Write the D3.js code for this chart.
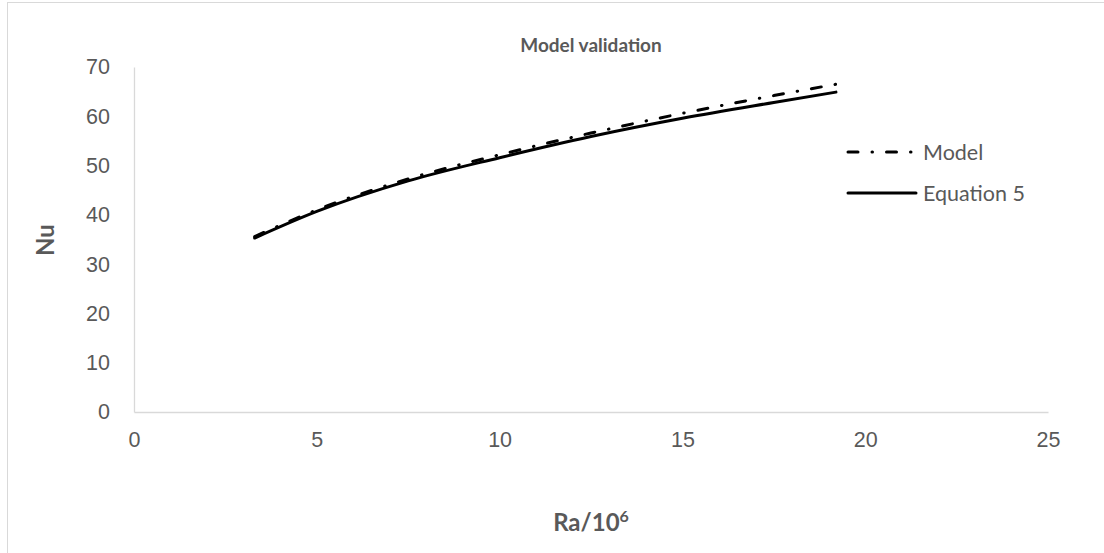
<!DOCTYPE html>
<html>
<head>
<meta charset="utf-8">
<script src="https://cdn.jsdelivr.net/npm/d3@7"></script>
<style>
  html, body { margin: 0; padding: 0; background: #fff; }
  svg { display: block; font-family: Lato, "Open Sans", sans-serif; }
</style>
</head>
<body>
<svg id="chart" width="1104" height="553"></svg>
<script>
// Rayleigh number (÷10^6) and Nusselt number for both curves
const raValues = [3.3, 5, 7.5, 10, 12.5, 15, 17.5, 19.2];
const modelNu = [35.6, 41.0, 47.3, 52.2, 56.6, 60.6, 64.2, 66.5];
const equationNu = [35.3, 40.7, 46.9, 51.6, 55.9, 59.6, 62.8, 64.9];
const xTicks = [0, 5, 10, 15, 20, 25];
const yTicks = [0, 10, 20, 30, 40, 50, 60, 70];
const seriesNames = ["Model", "Equation 5"];

const svg = d3.select("#chart");
const textColor = "#595959";
const axisColor = "#d9d9d9";
const tickFont = 21.5;

// outer chart frame
svg.append("rect")
  .attr("x", 7.5).attr("y", 2.5)
  .attr("width", 1110).attr("height", 560)
  .attr("fill", "none").attr("stroke", "#d9d9d9").attr("stroke-width", 1);

const x = d3.scaleLinear().domain([0, 25]).range([134, 1048]);
const y = d3.scaleLinear().domain([0, 70]).range([412, 67]);

// x axis
const xAxis = svg.append("g")
  .attr("transform", `translate(0,${y(0)})`)
  .call(d3.axisBottom(x).tickValues(xTicks).tickSize(0).tickPadding(20));
xAxis.select(".domain").attr("stroke", axisColor).attr("stroke-width", 1.3);
xAxis.selectAll("text").attr("fill", textColor).attr("font-size", tickFont);

// y axis
const yAxis = svg.append("g")
  .attr("transform", `translate(${x(0)},0)`)
  .call(d3.axisLeft(y).tickValues(yTicks).tickSize(0).tickPadding(24));
yAxis.select(".domain").attr("stroke", axisColor).attr("stroke-width", 1.3);
yAxis.selectAll("text").attr("fill", textColor).attr("font-size", tickFont);

// title and axis titles
svg.append("text")
  .attr("x", 591).attr("y", 52)
  .attr("text-anchor", "middle")
  .attr("fill", textColor).attr("font-size", 19).attr("font-weight", "bold")
  .text("Model validation");

svg.append("text")
  .attr("transform", "translate(54,240) rotate(-90)")
  .attr("text-anchor", "middle")
  .attr("fill", textColor).attr("font-size", 24).attr("font-weight", "bold")
  .text("Nu");

const xt = svg.append("text")
  .attr("x", 591).attr("y", 531)
  .attr("text-anchor", "middle")
  .attr("fill", textColor).attr("font-size", 24).attr("font-weight", "bold");
xt.append("tspan").text("Ra/10");
xt.append("tspan").attr("dy", -9).attr("font-size", 16).text("6");

// curves
const line = d3.line()
  .x(d => x(d[0]))
  .y(d => y(d[1]))
  .curve(d3.curveMonotoneX);

const dashPattern = "10 14 0.5 14";

svg.append("path")
  .datum(raValues.map((r, i) => [r, equationNu[i]]))
  .attr("d", line)
  .attr("fill", "none").attr("stroke", "#000").attr("stroke-width", 3)
  .attr("stroke-linecap", "round");

svg.append("path")
  .datum(raValues.map((r, i) => [r, modelNu[i]]))
  .attr("d", line)
  .attr("fill", "none").attr("stroke", "#000").attr("stroke-width", 3)
  .attr("stroke-linecap", "round")
  .attr("stroke-dasharray", dashPattern);

// legend
const legend = svg.append("g");
const legendRows = [
  { name: seriesNames[0], y: 152, dash: dashPattern },
  { name: seriesNames[1], y: 193, dash: null }
];
legendRows.forEach(row => {
  legend.append("line")
    .attr("x1", 848).attr("x2", 916)
    .attr("y1", row.y).attr("y2", row.y)
    .attr("stroke", "#000").attr("stroke-width", 3)
    .attr("stroke-linecap", "round")
    .attr("stroke-dasharray", row.dash);
  legend.append("text")
    .attr("x", 923).attr("y", row.y + 7.5)
    .attr("fill", textColor).attr("font-size", tickFont)
    .text(row.name);
});
</script>
</body>
</html>
